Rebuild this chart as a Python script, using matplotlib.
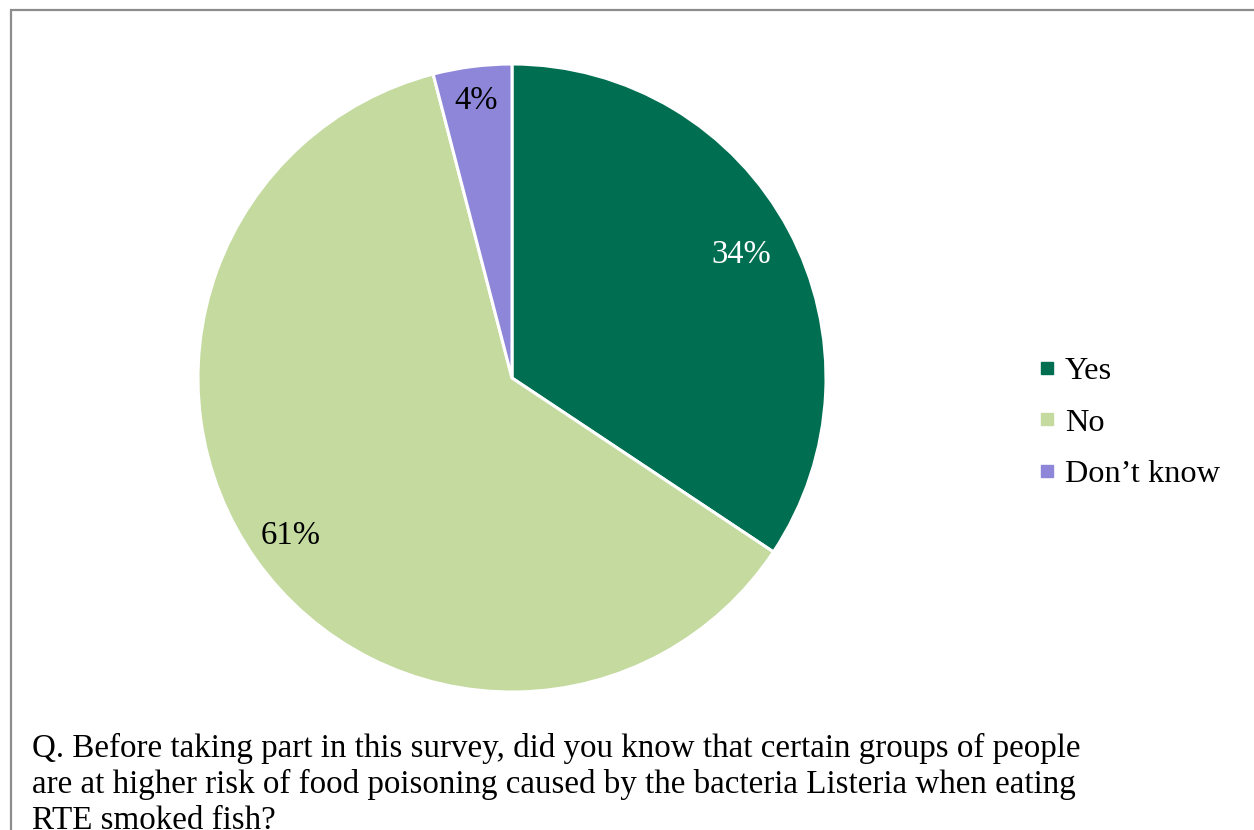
import matplotlib.pyplot as plt
from matplotlib.lines import Line2D
from matplotlib.patches import Rectangle
import numpy as np

categories = ['Yes', 'No', "Don\u2019t know"]
values = [34, 61, 4]  # percent, as labelled
colors = ['#006E51', '#C4DA9F', '#8E86D8']
label_colors = ['white', 'black', 'black']
question = ['Q. Before taking part in this survey, did you know that certain groups of people',
            'are at higher risk of food poisoning caused by the bacteria Listeria when eating',
            'RTE smoked fish?']

plt.rcParams['font.family'] = ['Liberation Serif', 'DejaVu Serif']

W, H = 1254, 830
fig = plt.figure(figsize=(W / 100, H / 100), dpi=100)

# pie centre (512, 378) px, radius 314 px
cx, cy, r = 512, 378, 314
ax = fig.add_axes([(cx - r) / W, (H - cy - r) / H, 2 * r / W, 2 * r / H])
wedges, _ = ax.pie(values, colors=colors, startangle=90, counterclock=False,
                   wedgeprops=dict(edgecolor='white', linewidth=2.2))
ax.set_xlim(-1, 1)
ax.set_ylim(-1, 1)
ax.set_aspect('equal')
ax.axis('off')

label_r = [0.83, 0.865, 0.89]
for w, v, lc, lr in zip(wedges, values, label_colors, label_r):
    mid = np.deg2rad((w.theta1 + w.theta2) / 2)
    ax.text(lr * np.cos(mid), lr * np.sin(mid), f'{v}%',
            ha='center', va='center', fontsize=23.5, color=lc)

handles = [Line2D([], [], marker='s', linestyle='none', markersize=8.5,
                  markerfacecolor=c, markeredgecolor=c) for c in colors]
fig.legend(handles, categories, loc='center left',
           bbox_to_anchor=(1021 / W, (H - 423) / H), frameon=False,
           fontsize=23.3, handlelength=0.6, handletextpad=0.25,
           labelspacing=0.68, borderpad=0)

for i, line in enumerate(question):
    fig.text(32 / W, (H - 757 - 36 * i) / H, line, ha='left', va='baseline',
             fontsize=23.8)

# chart border (top-left corner visible, rest cut off)
fig.patches.append(Rectangle((10.5 / W, -0.1), 1.2, (H - 10.5) / H + 0.1,
                             transform=fig.transFigure, fill=False,
                             edgecolor='#8c8c8c', linewidth=1.6))

fig.savefig('out.png', dpi=100)
